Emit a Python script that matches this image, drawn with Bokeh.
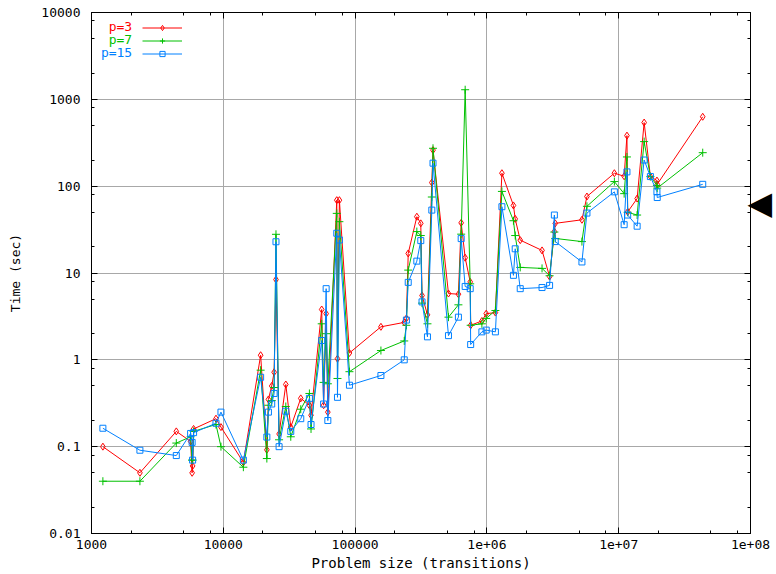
from bokeh.plotting import figure
from bokeh.models import (ColumnDataSource, FixedTicker, CustomJSTickFormatter, LogAxis,
                          Legend, LegendItem, Label, Range1d)
from bokeh.embed import file_html
from bokeh.resources import INLINE

# ---------------- data ----------------
problem_size = [1220, 2330, 4400, 5650, 5800, 5850, 5950, 8800, 9600, 14200,
                19200, 21400, 22000, 23300, 24300, 25100, 26500, 29800, 32500, 38700,
                45000, 46300, 55800, 57700, 60300, 62100, 72600, 73500, 76000, 90600,
                157000, 236000, 245000, 253000, 294000, 315000, 322000, 354000, 382000, 390000,
                511000, 608000, 638000, 684000, 747000, 753000, 916000, 988000, 1160000, 1300000,
                1590000, 1640000, 1790000, 2620000, 2990000, 3250000, 3300000, 5260000, 5740000, 9270000,
                11000000, 11550000, 11700000, 13800000, 15600000, 17400000, 19500000, 19600000, 43400000]

time_p3 = [0.10, 0.05, 0.15, 0.115, 0.05, 0.06, 0.16, 0.21, 0.168, 0.066,
           1.13, 0.092, 0.35, 0.5, 0.72, 8.4, 0.14, 0.52, 0.168, 0.36,
           0.3, 0.23, 3.8, 0.3, 3.4, 0.25, 69, 1.03, 69, 1.2,
           2.4, 2.7, 3.0, 16.8, 44.5, 37.3, 5.5, 3.3, 110, 260,
           5.8, 5.7, 37.8, 15, 7.9, 2.5, 2.8, 3.4, 3.5, 141,
           60, 42, 23.9, 18.2, 9.1, 30, 37.3, 41, 76, 141,
           130, 382, 50.6, 72, 540, 129, 116, 105, 630]

time_p7 = [0.04, 0.04, 0.11, 0.13, 0.07, 0.07, 0.15, 0.18, 0.10, 0.058,
           0.76, 0.073, 0.3, 0.34, 0.48, 27.9, 0.12, 0.29, 0.13, 0.27,
           0.41, 0.16, 2.6, 0.55, 2.0, 0.53, 48.6, 0.61, 39, 0.73,
           1.28, 1.65, 2.5, 10.8, 30, 27, 4.5, 2.6, 75, 273,
           3.1, 4.3, 28, 1290, 7.5, 2.5, 2.6, 3.0, 3.7, 87,
           40, 27, 11.6, 11.3, 9.3, 29.6, 25, 23, 58.6, 113,
           82, 217, 50, 46.5, 326, 129, 102, 95, 243]

time_p15 = [0.163, 0.091, 0.079, 0.142, 0.112, 0.07, 0.145, 0.186, 0.25, 0.07,
            0.63, 0.129, 0.25, 0.31, 0.41, 22.9, 0.10, 0.256, 0.15, 0.21,
            0.36, 0.18, 1.67, 0.31, 6.6, 0.20, 28.7, 0.37, 24, 0.51,
            0.66, 1.0, 2.87, 7.8, 13.7, 23.6, 4.65, 1.84, 53, 184,
            1.9, 3.1, 24.9, 7.0, 6.6, 1.5, 2.1, 2.2, 2.1, 58,
            9.4, 19, 6.6, 6.8, 7.2, 46.5, 23, 13.4, 49, 86,
            36, 146, 46.5, 34.6, 200, 129, 86, 74, 105]

series_names = ["p=3", "p=7", "p=15"]
series_colors = ["#ff0000", "#00c000", "#0080ff"]
series_markers = ["diamond", "cross", "square"]

x_major = [1e3, 1e4, 1e5, 1e6, 1e7, 1e8]
y_major = [0.01, 0.1, 1, 10, 100, 1000, 10000]
minor_factors = [2, 5, 8]
arrow_time = 64  # value marked by the pointer on the right

x_minor = [d * f for d in x_major[:-1] for f in minor_factors]
y_minor = [d * f for d in y_major[:-1] for f in minor_factors]

FONT = "DejaVu Sans Mono"

p = figure(width=776, height=574, x_axis_type="log", y_axis_type="log",
           x_range=Range1d(1000, 1e8), y_range=Range1d(0.01, 10000),
           output_backend="svg", toolbar_location=None,
           min_border_left=91, min_border_right=26, min_border_top=12, min_border_bottom=41,
           background_fill_color="white", border_fill_color="white")
p.outline_line_color = "black"

xfmt = CustomJSTickFormatter(code="""
const e = Math.round(Math.log10(tick));
if (e >= 6) { return "1e+" + (e < 10 ? "0" : "") + e; }
return Math.round(tick).toString();
""")
yfmt = CustomJSTickFormatter(code="""
const e = Math.round(Math.log10(tick));
if (e < 0) { return tick.toFixed(-e); }
return Math.round(tick).toString();
""")

xt = FixedTicker(ticks=x_major, minor_ticks=x_minor)
yt = FixedTicker(ticks=y_major, minor_ticks=y_minor)

xa = p.below[0]
ya = p.left[0]
xa.ticker = xt
ya.ticker = yt
xa.formatter = xfmt
ya.formatter = yfmt
xa.axis_label = "Problem size (transitions)"
ya.axis_label = "Time (sec)"
for ax in (xa, ya):
    ax.major_label_text_font = FONT
    ax.major_label_text_font_size = "13px"
    ax.major_label_text_color = "black"
    ax.axis_label_text_font = FONT
    ax.axis_label_text_font_style = "normal"
    ax.axis_label_text_color = "black"
    ax.axis_line_color = "black"
    ax.major_tick_line_color = "black"
    ax.minor_tick_line_color = "black"
    ax.major_tick_in = 6
    ax.major_tick_out = 0
    ax.minor_tick_in = 3
    ax.minor_tick_out = 0
xa.axis_label_text_font_size = "14px"
ya.axis_label_text_font_size = "13px"
xa.major_label_standoff = 6
xa.axis_label_standoff = 3
ya.major_label_standoff = 11
ya.axis_label_standoff = 15

# mirrored ticks on the right and top edges
for side, tk in (("right", yt), ("above", xt)):
    m = LogAxis(ticker=tk, formatter=CustomJSTickFormatter(code="return '';"),
                major_label_text_font_size="0px", major_label_standoff=0,
                major_tick_in=6, major_tick_out=0, minor_tick_in=3, minor_tick_out=0,
                axis_line_color="black", major_tick_line_color="black",
                minor_tick_line_color="black")
    p.add_layout(m, side)

# black pointer outside the right edge, at arrow_time
pointer = LogAxis(ticker=FixedTicker(ticks=[arrow_time], minor_ticks=[]),
                  formatter=CustomJSTickFormatter(code="return '\u25C0';"),
                  major_label_text_font="DejaVu Sans", major_label_text_font_size="32px",
                  major_label_text_color="black", major_label_standoff=-3,
                  major_tick_in=0, major_tick_out=0, minor_tick_in=0, minor_tick_out=0,
                  axis_line_color=None, major_tick_line_color=None, minor_tick_line_color=None)
p.add_layout(pointer, "right")

p.xgrid.grid_line_color = "#a8a8a8"
p.ygrid.grid_line_color = "#a8a8a8"
p.xgrid.grid_line_width = 1
p.ygrid.grid_line_width = 1

src = ColumnDataSource(dict(x=problem_size, t3=time_p3, t7=time_p7, t15=time_p15))
items = []
for col, name, color, marker in zip(["t3", "t7", "t15"], series_names, series_colors, series_markers):
    lr = p.line(x="x", y=col, source=src, line_color=color, line_width=1)
    if marker == "cross":
        sr = p.scatter(x="x", y=col, source=src, marker=marker, size=8,
                       line_color=color, line_width=1)
    elif marker == "diamond":
        sr = p.scatter(x="x", y=col, source=src, marker=marker, size=7,
                       line_color=color, fill_color=None, line_width=1)
    else:
        sr = p.scatter(x="x", y=col, source=src, marker=marker, size=6,
                       line_color=color, fill_color=None, line_width=1)
    items.append(LegendItem(label=" ", renderers=[lr, sr]))

legend = Legend(items=items, location=(51, 473), orientation="vertical",
                glyph_width=40, glyph_height=13, label_height=13, label_width=1,
                label_standoff=0, spacing=0, padding=0, margin=0,
                label_text_font_size="1px",
                border_line_color=None, background_fill_alpha=0)
p.add_layout(legend)

for i, (name, color) in enumerate(zip(series_names, series_colors)):
    p.add_layout(Label(x=40.7, y=507.5 - 13.3 * i, x_units="screen", y_units="screen",
                       text=name, text_align="right", text_baseline="middle",
                       text_font=FONT, text_font_size="13px", text_color=color))

open("out.html", "w").write(file_html(p, INLINE))
